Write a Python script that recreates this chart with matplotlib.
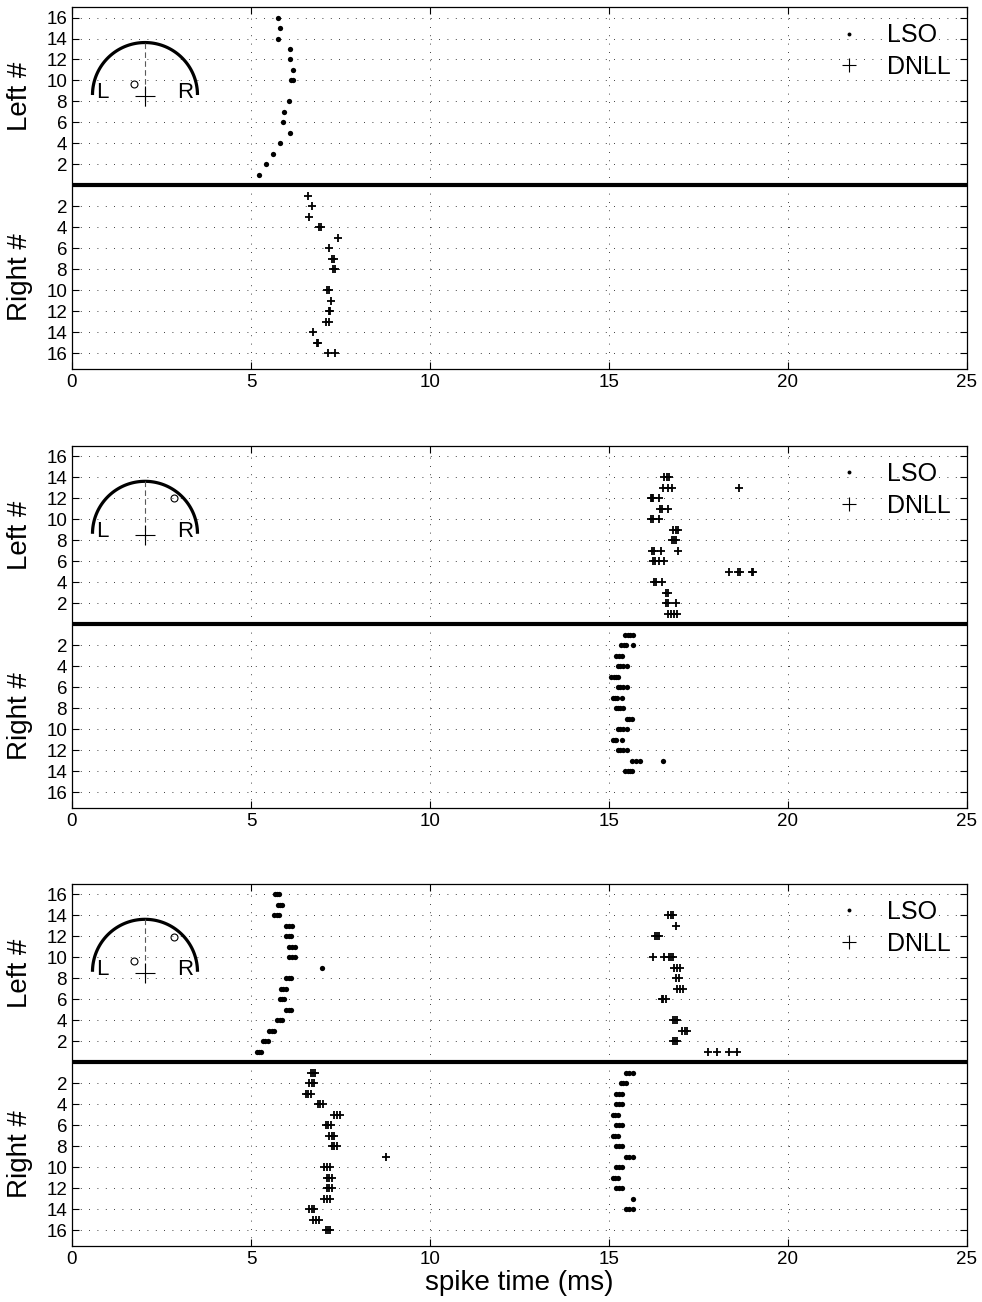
import numpy as np
import matplotlib.pyplot as plt
import matplotlib.transforms as mtransforms
from matplotlib.lines import Line2D

plt.rcParams['font.family'] = ['Liberation Sans', 'DejaVu Sans']

# spike times (ms) per neuron number
# panel 1
p1_lso_left = [(16, [5.76]), (15, [5.81]), (14, [5.76]), (13, [6.09]), (12, [6.09]),
               (11, [6.18]), (10, [6.12, 6.17]), (8, [6.06]), (7, [5.93]), (6, [5.90]),
               (5, [6.09]), (4, [5.81]), (3, [5.62]), (2, [5.42]), (1, [5.23])]
p1_dnll_right = [(1, [6.60]), (2, [6.71]), (3, [6.63]), (4, [6.90, 6.96]), (5, [7.44]),
                 (6, [7.19]), (7, [7.27, 7.32]), (8, [7.30, 7.36]), (10, [7.12, 7.17]),
                 (11, [7.23]), (12, [7.17, 7.21]), (13, [7.09, 7.19]), (14, [6.72]),
                 (15, [6.84, 6.88]), (16, [7.16, 7.35])]

# panel 2
p2_dnll_left = [(14, [16.55, 16.62, 16.68]), (13, [16.52, 16.64, 16.75, 18.64]),
                (12, [16.16, 16.20, 16.24, 16.41]), (11, [16.42, 16.47, 16.64]),
                (10, [16.16, 16.22, 16.41]), (9, [16.80, 16.86, 16.92]),
                (8, [16.75, 16.81, 16.87]), (7, [16.19, 16.26, 16.45, 16.94]),
                (6, [16.22, 16.28, 16.41, 16.54]), (5, [18.36, 18.61, 18.66, 18.99, 19.03]),
                (4, [16.27, 16.31, 16.49]), (3, [16.59, 16.66]),
                (2, [16.58, 16.64, 16.87]), (1, [16.66, 16.74, 16.82, 16.89])]
p2_lso_right = [(1, [15.45, 15.52, 15.59, 15.66]), (2, [15.34, 15.41, 15.47, 15.66]),
                (3, [15.21, 15.29, 15.37]), (4, [15.24, 15.31, 15.38, 15.50]),
                (5, [15.07, 15.13, 15.20, 15.26]), (6, [15.24, 15.31, 15.38, 15.50]),
                (7, [15.12, 15.18, 15.23, 15.35]), (8, [15.20, 15.26, 15.32, 15.38]),
                (9, [15.49, 15.56, 15.63]), (10, [15.24, 15.31, 15.38, 15.49]),
                (11, [15.10, 15.16, 15.21, 15.35]), (12, [15.24, 15.31, 15.38, 15.49]),
                (13, [15.63, 15.75, 15.87, 16.50]), (14, [15.45, 15.52, 15.59, 15.63])]

# panel 3
p3_lso_left = [(16, [5.67, 5.73, 5.79]), (15, [5.75, 5.81, 5.86]), (14, [5.65, 5.72, 5.79]),
               (13, [5.97, 6.05, 6.14]), (12, [5.97, 6.05, 6.12]), (11, [6.07, 6.15, 6.23]),
               (10, [6.07, 6.15, 6.23]), (9, [6.97]), (8, [5.97, 6.05, 6.12]),
               (7, [5.84, 5.90, 5.97]), (6, [5.81, 5.87, 5.93]), (5, [5.97, 6.05, 6.12]),
               (4, [5.74, 5.80, 5.87]), (3, [5.51, 5.58, 5.65]), (2, [5.33, 5.40, 5.47]),
               (1, [5.16, 5.22, 5.28])]
p3_dnll_right = [(1, [6.67, 6.73, 6.79]), (2, [6.63, 6.70, 6.76]), (3, [6.54, 6.60, 6.67]),
                 (4, [6.86, 6.93, 7.00]), (5, [7.33, 7.41, 7.49]), (6, [7.09, 7.16, 7.23]),
                 (7, [7.19, 7.26, 7.33]), (8, [7.25, 7.33, 7.41]), (9, [8.77]),
                 (10, [7.05, 7.13, 7.21]), (11, [7.11, 7.19, 7.27]), (12, [7.11, 7.18, 7.25]),
                 (13, [7.05, 7.13, 7.21]), (14, [6.63, 6.70, 6.77]), (15, [6.74, 6.82, 6.91]),
                 (16, [7.09, 7.15, 7.21])]
p3_dnll_left = [(14, [16.64, 16.72, 16.80]), (13, [16.87]), (12, [16.28, 16.34, 16.41]),
                (10, [16.22, 16.55, 16.68, 16.74, 16.80]), (9, [16.82, 16.90, 16.98]),
                (8, [16.87, 16.96]), (7, [16.91, 16.98, 17.06]), (6, [16.47, 16.52, 16.58]),
                (4, [16.78, 16.84, 16.91]), (3, [17.05, 17.11, 17.17]),
                (2, [16.78, 16.84, 16.91]), (1, [17.77, 18.01, 18.36, 18.57])]
p3_lso_right = [(1, [15.47, 15.56, 15.66]), (2, [15.34, 15.40, 15.47]), (3, [15.21, 15.29, 15.37]),
                (4, [15.21, 15.29, 15.37]), (5, [15.10, 15.18, 15.26]), (6, [15.21, 15.29, 15.37]),
                (7, [15.10, 15.18, 15.26]), (8, [15.21, 15.29, 15.37]), (9, [15.47, 15.56, 15.66]),
                (10, [15.21, 15.29, 15.37]), (11, [15.10, 15.18, 15.26]), (12, [15.21, 15.29, 15.37]),
                (13, [15.66]), (14, [15.47, 15.56, 15.66])]

# sound source positions in the head inset (unit circle)
p1_sources = [(-0.21, 0.21)]
p2_sources = [(0.55, 0.68)]
p3_sources = [(-0.21, 0.21), (0.56, 0.67)]

ytick_vals = [-16, -14, -12, -10, -8, -6, -4, -2, 2, 4, 6, 8, 10, 12, 14, 16]
ytick_labels = [str(abs(v)) for v in ytick_vals]
xtick_vals = [0, 5, 10, 15, 20, 25]

panels = [
    dict(lso=[(p1_lso_left, 1)], dnll=[(p1_dnll_right, -1)], src=p1_sources),
    dict(lso=[(p2_lso_right, -1)], dnll=[(p2_dnll_left, 1)], src=p2_sources),
    dict(lso=[(p3_lso_left, 1), (p3_lso_right, -1)],
         dnll=[(p3_dnll_right, -1), (p3_dnll_left, 1)], src=p3_sources),
]


def flatten(rows, sign):
    xs, ys = [], []
    for n, times in rows:
        for t in times:
            xs.append(t)
            ys.append(sign * n)
    return xs, ys


def draw_head(ax, sources):
    ins = ax.inset_axes([0.01117, 0.6989, 0.1408, 0.2175])
    ins.set_xlim(-1.2, 1.2)
    ins.set_ylim(-0.4, 1.1)
    ins.axis('off')
    th = np.linspace(0, np.pi, 100)
    ins.plot(np.cos(th), np.sin(th), color='k', lw=2.3, solid_capstyle='butt')
    ins.plot([0, 0], [1.0, -0.2], color='0.35', lw=0.8, dashes=(5, 3))
    ins.plot([0], [-0.02], marker='+', color='k', ms=15, mew=0.8)
    for sx, sy in sources:
        ins.plot([sx], [sy], marker='o', mfc='none', mec='k', ms=5, mew=0.8)
    ins.text(-0.82, 0.05, 'L', fontsize=16, ha='center', va='center')
    ins.text(0.77, 0.05, 'R', fontsize=16, ha='center', va='center')


fig = plt.figure(figsize=(9.82, 13.02), dpi=100)
bottoms = [0.7166, 0.3796, 0.0432]

for i, (b, p) in enumerate(zip(bottoms, panels)):
    ax = fig.add_axes([0.0733, b, 0.9114, 0.278])
    for rows, sign in p['lso']:
        xs, ys = flatten(rows, sign)
        ax.plot(xs, ys, ls='none', marker='o', ms=3.8, color='k', mew=0)
    for rows, sign in p['dnll']:
        xs, ys = flatten(rows, sign)
        ax.plot(xs, ys, ls='none', marker='+', ms=6, color='k', mew=1.3)

    ax.axhline(0, color='k', lw=3)
    ax.set_xlim(0, 25)
    ax.set_ylim(-17.5, 17)
    ax.set_xticks(xtick_vals)
    ax.set_yticks(ytick_vals)
    ax.set_yticklabels(ytick_labels)
    ax.grid(True, color='k', lw=0.6, linestyle=(0, (1, 9)))
    ax.tick_params(direction='in', top=True, right=True, length=5, labelsize=13.5)
    for s in ax.spines.values():
        s.set_linewidth(0.9)

    trans = mtransforms.blended_transform_factory(ax.transAxes, ax.transData)
    ax.text(-0.058, 8.5, 'Left #', rotation=90, ha='center', va='center',
            fontsize=20, transform=trans)
    ax.text(-0.058, -8.75, 'Right #', rotation=90, ha='center', va='center',
            fontsize=20, transform=trans)

    handles = [Line2D([], [], ls='none', marker='o', ms=2.8, mew=0, color='k', label='LSO'),
               Line2D([], [], ls='none', marker='+', ms=10, mew=0.8, color='k', label='DNLL')]
    ax.legend(handles=handles, loc='upper right', frameon=False, fontsize=18,
              handlelength=1.4, labelspacing=0.3, borderaxespad=0.25)

    draw_head(ax, p['src'])

    if i == 2:
        ax.set_xlabel('spike time (ms)', fontsize=20, labelpad=2)

fig.savefig('out.png', dpi=100)
